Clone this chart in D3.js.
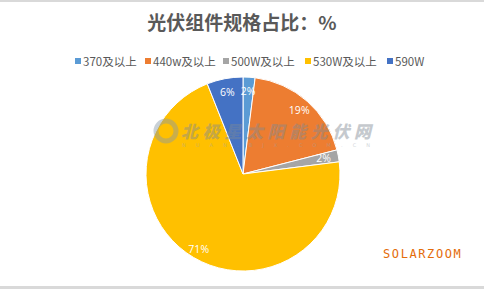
<!DOCTYPE html>
<html><head><meta charset="utf-8">
<script src="https://cdn.jsdelivr.net/npm/d3@7"></script>
<style>html,body{margin:0;padding:0;background:#fff;}svg{display:block;}</style>
</head><body>
<svg id="chart" width="484" height="289"></svg>
<script>
const categories = ["370及以上", "440w及以上", "500W及以上", "530W及以上", "590W"];
const values = [2, 19, 2, 71, 6];
const labels = ["2%", "19%", "2%", "71%", "6%"];
const colors = ["#5B9BD5", "#ED7D31", "#A5A5A5", "#FFC000", "#4472C4"];
const title = "光伏组件规格占比：%";

const svg = d3.select("#chart");
const W = 484, H = 289;
const cx = 243, cy = 174, R = 97;

// frame lines
svg.append("rect").attr("x",0).attr("y",0).attr("width",W).attr("height",2).attr("fill","#d9d9d9");
svg.append("rect").attr("x",0).attr("y",286).attr("width",W).attr("height",3).attr("fill","#d9d9d9");

svg.append("text").attr("x",242).attr("y",30).attr("text-anchor","middle")
  .attr("font-family","'Noto Sans CJK SC', sans-serif").attr("font-weight","bold")
  .attr("font-size",19).attr("fill","#595959").text(title);

// legend
const legX = [75, 145, 223, 305, 387];
const leg = svg.append("g");
categories.forEach((c,i)=>{
  leg.append("rect").attr("x",legX[i]).attr("y",58).attr("width",6).attr("height",6).attr("fill",colors[i]);
  leg.append("text").attr("x",legX[i]+8).attr("y",65.5)
    .attr("font-family","'Noto Sans CJK SC', sans-serif").attr("font-size",11.5)
    .attr("fill","#595959").text(c);
});

const pie = d3.pie().sort(null).value(d=>d)(values);
const arc = d3.arc().innerRadius(0).outerRadius(R);
const g = svg.append("g").attr("transform",`translate(${cx},${cy})`);
g.selectAll("path").data(pie).join("path")
  .attr("d",arc).attr("fill",(d,i)=>colors[i])
  .attr("stroke","#fff").attr("stroke-width",1);

// watermark
const wm = svg.append("g").attr("opacity",0.45);
wm.append("circle").attr("cx",166).attr("cy",131).attr("r",10).attr("fill","none").attr("stroke","#8a9aa8").attr("stroke-width",5);
wm.append("text").attr("x",181).attr("y",138)
  .attr("font-family","'Noto Sans CJK SC', sans-serif").attr("font-weight","900")
  .attr("font-style","italic").attr("font-size",17).attr("fill","#7f8a94")
  .attr("textLength",190).text("北极星太阳能光伏网");
wm.append("text").attr("x",182).attr("y",147)
  .attr("font-family","'DejaVu Sans', sans-serif").attr("font-size",5)
  .attr("fill","#9aa4ad").attr("textLength",188).text("N U A N . B J X . C O M . C N");

const lr = [83, 85, 82, 87, 83];
g.selectAll("text.lab").data(pie).join("text").attr("class","lab")
  .attr("transform",(d,i)=>{
    const a=(d.startAngle+d.endAngle)/2;
    return `translate(${Math.sin(a)*lr[i]},${-Math.cos(a)*lr[i]})`;
  })
  .attr("text-anchor","middle").attr("dy","0.35em")
  .attr("font-family","'Open Sans', 'DejaVu Sans', sans-serif").attr("font-size",10.5)
  .attr("fill","#fff").text((d,i)=>labels[i]);

svg.append("text").attr("x",383).attr("y",258)
  .attr("font-family","'DejaVu Sans Mono', monospace").attr("font-size",12)
  .attr("letter-spacing",1.6).attr("fill","#E46C0A").text("SOLARZOOM");
</script>
</body></html>
